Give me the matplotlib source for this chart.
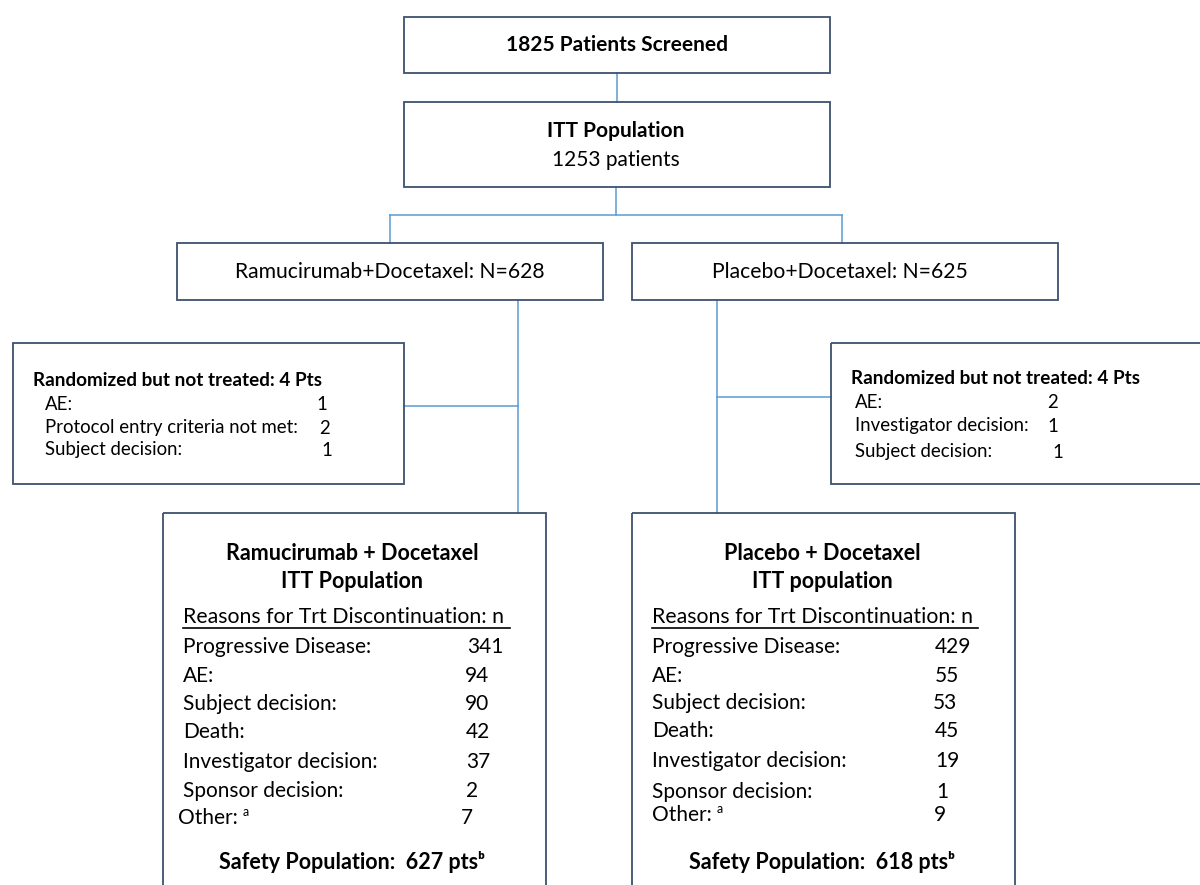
import matplotlib
matplotlib.use('Agg')
import matplotlib.pyplot as plt
from matplotlib.patches import Rectangle

plt.rcParams['font.family'] = ['Lato', 'DejaVu Sans']

# 数据
n_screened = 1825
n_itt = 1253
arm_names = ['Ramucirumab+Docetaxel', 'Placebo+Docetaxel']
arm_n = [628, 625]
arm_titles = [('Ramucirumab + Docetaxel', 'ITT Population'),
              ('Placebo + Docetaxel', 'ITT population')]

not_treated_total = [4, 4]
not_treated_labels = [['AE:', 'Protocol entry criteria not met:', 'Subject decision:'],
                      ['AE:', 'Investigator decision:', 'Subject decision:']]
not_treated_counts = [[1, 2, 1], [2, 1, 1]]

reasons = ['Progressive Disease:', 'AE:', 'Subject decision:', 'Death:',
           'Investigator decision:', 'Sponsor decision:', 'Other:']
ram_counts = [341, 94, 90, 42, 37, 2, 7]
plc_counts = [429, 55, 53, 45, 19, 1, 9]
safety_pop = [627, 618]

EDGE = '#3E5170'
LINK = '#5B9BD5'

fig = plt.figure(figsize=(12, 8.85), dpi=100)
ax = fig.add_axes([0, 0, 1, 1])
ax.set_xlim(0, 1200)
ax.set_ylim(885, 0)
ax.axis('off')


def box(x0, y0, x1, y1):
    ax.add_patch(Rectangle((x0, y0), x1 - x0, y1 - y0, fill=False,
                           edgecolor=EDGE, linewidth=1.3, zorder=2))


def link(xs, ys):
    ax.plot(xs, ys, color=LINK, linewidth=1.1, zorder=1)


# 顶部方框
box(404, 17, 830, 73)
ax.text(617, 45, '{} Patients Screened'.format(n_screened), ha='center', va='center',
        fontsize=15, fontweight='bold')
link([617, 617], [73, 102])

box(404, 102, 830, 187)
ax.text(616, 131, 'ITT Population', ha='center', va='center', fontsize=15, fontweight='bold')
ax.text(616, 160, '{} patients'.format(n_itt), ha='center', va='center', fontsize=15)

# 分支
link([616, 616], [187, 215])
link([390, 842], [215, 215])
link([390, 390], [215, 243])
link([842, 842], [215, 243])

box(177, 243, 603, 300)
ax.text(390, 272, '{}: N={}'.format(arm_names[0], arm_n[0]), ha='center', va='center', fontsize=15.2)
box(632, 243, 1058, 300)
ax.text(840, 272, '{}: N={}'.format(arm_names[1], arm_n[1]), ha='center', va='center', fontsize=15.2)

# 竖线
link([518, 518], [300, 513])
link([717, 717], [300, 513])
link([404, 518], [406, 406])
link([717, 831], [397, 397])

# 未治疗方框
box(13, 343, 404, 484)
box(831, 343, 1210, 484)
side = [(33, [45, 45, 45], [322, 325, 327], [380, 405, 428, 450]),
        (851, [855, 855, 855], [1053, 1053, 1058], [378, 402, 426, 452])]
for k, (tx, lx, nx, ys) in enumerate(side):
    ax.text(tx, ys[0], 'Randomized but not treated: {} Pts'.format(not_treated_total[k]),
            ha='left', va='center', fontsize=13.6, fontweight='bold')
    for j, (lab, c) in enumerate(zip(not_treated_labels[k], not_treated_counts[k])):
        ax.text(lx[j], ys[j + 1], lab, ha='left', va='center', fontsize=13.4)
        ax.text(nx[j], ys[j + 1], str(c), ha='center', va='center', fontsize=13.4)

# 底部方框
box(163, 513, 546, 900)
box(632, 513, 1015, 900)
bottom = [
    (352, 183, 510, [183] * 6 + [178], [485, 477, 477, 478, 478, 472, 467],
     [647, 676, 704, 732, 762, 791, 818], ram_counts),
    (822, 652, 978, [652] * 7, [953, 947, 945, 947, 947, 942, 940],
     [647, 676, 703, 731, 761, 792, 815], plc_counts),
]
for k, (cx, rx, ux, lxs, nxs, ys, counts) in enumerate(bottom):
    ax.text(cx, 553, arm_titles[k][0], ha='center', va='center', fontsize=15.5, fontweight='bold')
    ax.text(cx, 581, arm_titles[k][1], ha='center', va='center', fontsize=15.5, fontweight='bold')
    ax.text(rx, 617, 'Reasons for Trt Discontinuation: n', ha='left', va='center', fontsize=15.3)
    ax.plot([rx, ux], [628, 628], color='black', linewidth=1.2)
    for j, (lab, c) in enumerate(zip(reasons, counts)):
        ax.text(lxs[j], ys[j], lab, ha='left', va='center', fontsize=15)
        ax.text(nxs[j], ys[j], str(c), ha='center', va='center', fontsize=15)
    # 上标 a
    ax.text(lxs[-1] + 65, ys[-1] - 6, 'a', ha='left', va='center', fontsize=9)
    ax.text(cx, 862, 'Safety Population:  {} pts\u1d47'.format(safety_pop[k]),
            ha='center', va='center', fontsize=15.5, fontweight='bold')

fig.savefig('out.png', dpi=100, facecolor='white')
